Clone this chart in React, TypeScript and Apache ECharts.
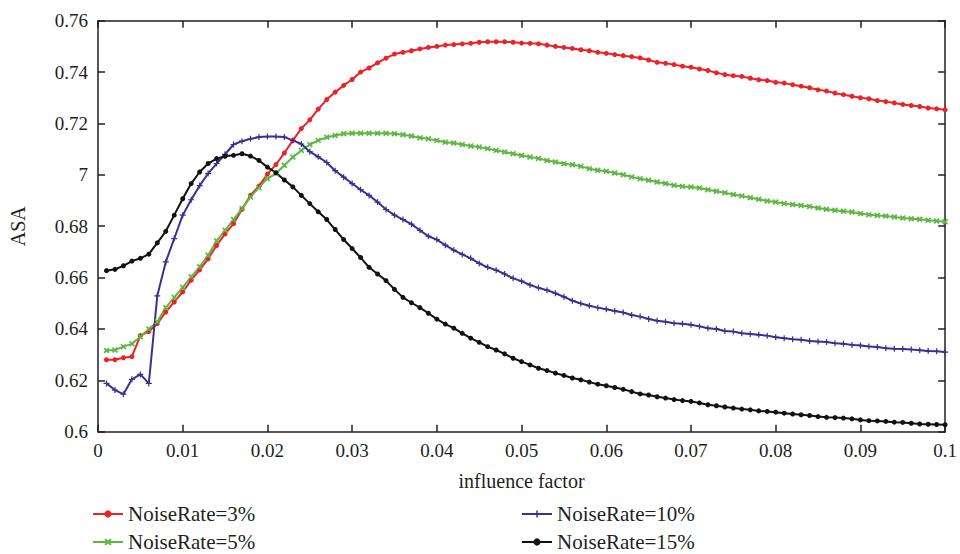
import React, { useEffect, useRef } from "react";
import * as echarts from "echarts";

const xValues = [
  0.001, 0.002, 0.003, 0.004, 0.005, 0.006, 0.007, 0.008, 0.009, 0.01,
  0.011, 0.012, 0.013, 0.014, 0.015, 0.016, 0.017, 0.018, 0.019, 0.02,
  0.021, 0.022, 0.023, 0.024, 0.025, 0.026, 0.027, 0.028, 0.029, 0.03,
  0.031, 0.032, 0.033, 0.034, 0.035, 0.036, 0.037, 0.038, 0.039, 0.04,
  0.041, 0.042, 0.043, 0.044, 0.045, 0.046, 0.047, 0.048, 0.049, 0.05,
  0.051, 0.052, 0.053, 0.054, 0.055, 0.056, 0.057, 0.058, 0.059, 0.06,
  0.061, 0.062, 0.063, 0.064, 0.065, 0.066, 0.067, 0.068, 0.069, 0.07,
  0.071, 0.072, 0.073, 0.074, 0.075, 0.076, 0.077, 0.078, 0.079, 0.08,
  0.081, 0.082, 0.083, 0.084, 0.085, 0.086, 0.087, 0.088, 0.089, 0.09,
  0.091, 0.092, 0.093, 0.094, 0.095, 0.096, 0.097, 0.098, 0.099, 0.1,
];

const noise3 = [
  0.628, 0.628, 0.6288, 0.6292, 0.6374, 0.639, 0.6421, 0.6466, 0.6505, 0.6544,
  0.659, 0.663, 0.6673, 0.6725, 0.677, 0.681, 0.6866, 0.692, 0.6956, 0.7003,
  0.704, 0.7085, 0.7134, 0.718, 0.7214, 0.7256, 0.7293, 0.7322, 0.7348, 0.7371,
  0.74, 0.7416, 0.7436, 0.7454, 0.747, 0.7477, 0.7483, 0.749, 0.7496, 0.75,
  0.7505, 0.7507, 0.751, 0.7512, 0.7516, 0.7518, 0.7518, 0.7518, 0.7516, 0.7513,
  0.7512, 0.751, 0.7505, 0.75, 0.7496, 0.7492, 0.7487, 0.7483, 0.7477, 0.7473,
  0.7468, 0.7464, 0.746, 0.7455, 0.7447, 0.7438, 0.7434, 0.7429, 0.7423, 0.7419,
  0.7412, 0.7406, 0.7397, 0.739, 0.7386, 0.7383, 0.7376, 0.737, 0.7367, 0.736,
  0.7357, 0.7351, 0.7345, 0.7339, 0.7331, 0.7326, 0.7318, 0.7312, 0.7306, 0.73,
  0.7296, 0.7289, 0.7285, 0.728, 0.7274, 0.727, 0.7266, 0.726, 0.7257, 0.7253,
];

const noise5 = [
  0.6316, 0.6318, 0.6331, 0.6342, 0.637, 0.64, 0.6428, 0.6483, 0.6523, 0.6562,
  0.6603, 0.6642, 0.6687, 0.6743, 0.6784, 0.6826, 0.6869, 0.6914, 0.695, 0.6985,
  0.7005, 0.7037, 0.7069, 0.7095, 0.7118, 0.7134, 0.7146, 0.7153, 0.716, 0.7162,
  0.7162, 0.7162, 0.7162, 0.7162, 0.716, 0.7156, 0.7151, 0.7144, 0.714, 0.7134,
  0.7127, 0.7124, 0.7118, 0.7112, 0.7108, 0.7102, 0.7095, 0.7089, 0.7082, 0.7075,
  0.7069, 0.7064, 0.7056, 0.705, 0.7043, 0.7039, 0.7033, 0.7024, 0.7018, 0.7014,
  0.7007, 0.7, 0.6992, 0.6985, 0.6979, 0.6972, 0.6966, 0.6959, 0.6955, 0.6953,
  0.6949, 0.6942, 0.6936, 0.693, 0.6923, 0.6918, 0.6911, 0.6905, 0.6898, 0.6894,
  0.6888, 0.6884, 0.6881, 0.6877, 0.6871, 0.6866, 0.6862, 0.6858, 0.6855, 0.6849,
  0.6845, 0.6842, 0.684, 0.6836, 0.6832, 0.6829, 0.6827, 0.6823, 0.682, 0.6817,
];

const noise10 = [
  0.6188, 0.6162, 0.6146, 0.6204, 0.6223, 0.6188, 0.6529, 0.6661, 0.6752, 0.6843,
  0.6903, 0.6958, 0.7005, 0.7044, 0.708, 0.7118, 0.7131, 0.714, 0.7147, 0.7149,
  0.7149, 0.7147, 0.7134, 0.712, 0.709, 0.707, 0.7048, 0.7016, 0.6991, 0.6966,
  0.6942, 0.692, 0.6894, 0.6865, 0.6843, 0.6826, 0.6808, 0.6784, 0.6761, 0.6748,
  0.6726, 0.6707, 0.669, 0.6675, 0.6655, 0.664, 0.6629, 0.6614, 0.6597, 0.6586,
  0.6571, 0.656, 0.6551, 0.6539, 0.6525, 0.651, 0.6499, 0.649, 0.6483, 0.6477,
  0.647, 0.6464, 0.6454, 0.6448, 0.6439, 0.6432, 0.6428, 0.6422, 0.642, 0.6416,
  0.641, 0.6403, 0.64, 0.6392, 0.639, 0.6383, 0.638, 0.6377, 0.6374, 0.6368,
  0.6364, 0.636, 0.6358, 0.6353, 0.6351, 0.6349, 0.6344, 0.6342, 0.6338, 0.6336,
  0.6332, 0.633, 0.6325, 0.6323, 0.6322, 0.632, 0.6317, 0.6314, 0.6313, 0.631,
];

const noise15 = [
  0.6627, 0.6632, 0.6646, 0.6664, 0.6675, 0.6691, 0.6735, 0.678, 0.6843, 0.6907,
  0.6966, 0.7011, 0.7044, 0.7063, 0.7072, 0.7076, 0.7082, 0.7073, 0.7056, 0.703,
  0.7008, 0.698, 0.6953, 0.692, 0.6888, 0.6856, 0.6826, 0.6787, 0.6748, 0.6713,
  0.6678, 0.664, 0.6614, 0.6588, 0.6554, 0.6523, 0.6502, 0.6483, 0.6461, 0.6438,
  0.6419, 0.6403, 0.6383, 0.6364, 0.6348, 0.6331, 0.6318, 0.6303, 0.6286, 0.6273,
  0.626, 0.6247, 0.6238, 0.6228, 0.6219, 0.6209, 0.6202, 0.6193, 0.6185, 0.6179,
  0.6172, 0.6165, 0.6156, 0.6147, 0.6143, 0.6136, 0.6131, 0.6125, 0.6121, 0.6118,
  0.6112, 0.6105, 0.6101, 0.6096, 0.6092, 0.6088, 0.6085, 0.6081, 0.6079, 0.6076,
  0.6072, 0.6069, 0.6066, 0.6063, 0.6059, 0.6056, 0.6055, 0.6053, 0.605, 0.6046,
  0.6043, 0.6042, 0.604, 0.6037, 0.6036, 0.6033, 0.603, 0.6029, 0.6028, 0.6027,
];

const seriesNames = ["NoiseRate=3%", "NoiseRate=5%", "NoiseRate=10%", "NoiseRate=15%"];
const xTickLabels = ["0", "0.01", "0.02", "0.03", "0.04", "0.05", "0.06", "0.07", "0.08", "0.09", "0.1"];
const yTickLabels = ["0.6", "0.62", "0.64", "0.66", "0.68", "7", "0.72", "0.74", "0.76"];

const FONT = "Liberation Serif";
const AXIS_COLOR = "#231f20";

export default function App() {
  const ref = useRef<HTMLDivElement>(null);

  useEffect(() => {
    if (!ref.current) return;
    const chart = echarts.init(ref.current, undefined, { renderer: "svg" });

    const pair = (ys: number[]) => ys.map((y, i) => [xValues[i], y]);

    const axisLine = { show: true, onZero: false, lineStyle: { color: AXIS_COLOR, width: 1.5 } };
    const axisTick = { show: true, inside: true, length: 7, lineStyle: { color: AXIS_COLOR, width: 1.5 } };
    const labelStyle = { fontFamily: FONT, fontSize: 19, color: AXIS_COLOR };

    const xFmt = (v: number) => xTickLabels[Math.round(v / 0.01)] ?? "";
    const yFmt = (v: number) => yTickLabels[Math.round((v - 0.6) / 0.02)] ?? "";

    const plus = "path://M2,0H3V2H5V3H3V5H2V3H0V2H2Z";
    const cross = "path://M0,1L1,0L2.5,1.5L4,0L5,1L3.5,2.5L5,4L4,5L2.5,3.5L1,5L0,4L1.5,2.5Z";

    const mk = (name: string, data: number[], color: string, symbol: string, size: number) => ({
      name,
      type: "line",
      data: pair(data),
      xAxisIndex: 0,
      yAxisIndex: 0,
      symbol,
      symbolSize: size,
      showSymbol: true,
      lineStyle: { color, width: 2 },
      itemStyle: { color, borderWidth: 0 },
      emphasis: { disabled: true },
    });

    const legendBase = {
      orient: "vertical",
      top: 503,
      height: 60,
      padding: 0,
      itemWidth: 30,
      itemHeight: 9,
      itemGap: 6,
      textStyle: { fontFamily: FONT, fontSize: 21, color: AXIS_COLOR, lineHeight: 22 },
    };

    chart.setOption({
      animation: false,
      backgroundColor: "#ffffff",
      grid: { left: 92.5, right: 13, top: 20.7, bottom: 122.3, containLabel: false },
      xAxis: [
        {
          type: "value",
          min: 0,
          max: 0.1,
          interval: 0.01,
          position: "bottom",
          axisLine,
          axisTick,
          splitLine: { show: false },
          axisLabel: { ...labelStyle, margin: 9, formatter: xFmt, showMinLabel: true, showMaxLabel: true },
          name: "influence factor",
          nameLocation: "middle",
          nameGap: 39,
          nameTextStyle: { fontFamily: FONT, fontSize: 20, color: AXIS_COLOR },
        },
        {
          type: "value",
          min: 0,
          max: 0.1,
          interval: 0.01,
          position: "top",
          axisLine,
          axisTick,
          splitLine: { show: false },
          axisLabel: { show: false },
        },
      ],
      yAxis: [
        {
          type: "value",
          min: 0.6,
          max: 0.76,
          interval: 0.02,
          position: "left",
          axisLine,
          axisTick,
          splitLine: { show: false },
          axisLabel: { ...labelStyle, margin: 10, formatter: yFmt, showMinLabel: true, showMaxLabel: true },
          name: "ASA",
          nameLocation: "middle",
          nameGap: 70,
          nameTextStyle: { fontFamily: FONT, fontSize: 20, color: AXIS_COLOR },
        },
        {
          type: "value",
          min: 0.6,
          max: 0.76,
          interval: 0.02,
          position: "right",
          axisLine,
          axisTick,
          splitLine: { show: false },
          axisLabel: { show: false },
        },
      ],
      legend: [
        { ...legendBase, data: [seriesNames[0], seriesNames[1]], left: 92 },
        { ...legendBase, data: [seriesNames[2], seriesNames[3]], left: 521 },
      ],
      series: [
        mk(seriesNames[0], noise3, "#ec2227", "circle", 5),
        mk(seriesNames[1], noise5, "#5cb843", cross, 6),
        mk(seriesNames[2], noise10, "#3b2f92", plus, 6),
        mk(seriesNames[3], noise15, "#111111", "circle", 5),
      ],
    });

    return () => chart.dispose();
  }, []);

  return <div ref={ref} style={{ width: 960, height: 554, position: "absolute", left: 0, top: 0 }} />;
}
